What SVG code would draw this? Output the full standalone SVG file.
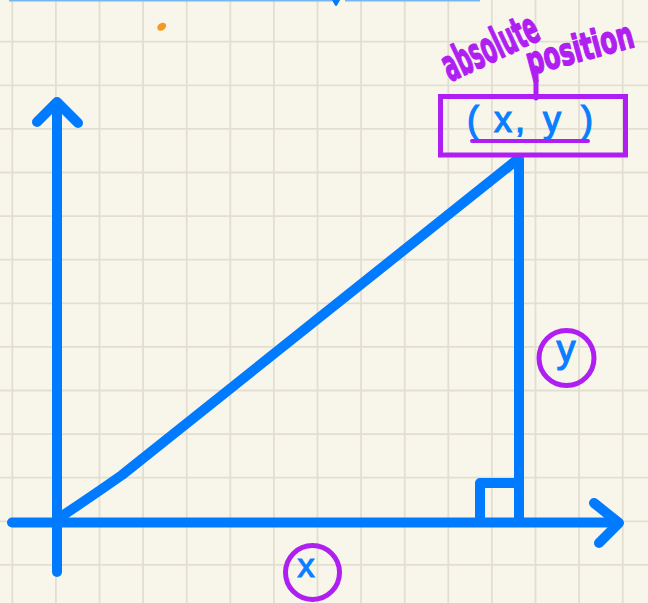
<svg xmlns="http://www.w3.org/2000/svg" width="648" height="603" viewBox="0 0 648 603">
<defs>
<style>
.grid line{stroke:#e2dfd1;stroke-width:1.8}
.blue{fill:none;stroke:#007aff;stroke-width:10;stroke-linecap:round;stroke-linejoin:round}
.purple{fill:none;stroke:#b01ff2;stroke-width:5}
.bt{font-family:"Liberation Sans",Arial,sans-serif;fill:#0a7eff;stroke:#0a7eff;stroke-width:1.2}
.hw{font-family:"DejaVu Sans Condensed","DejaVu Sans",sans-serif;font-weight:bold;fill:#b01ff2;stroke:#b01ff2;stroke-width:1.5;stroke-linejoin:round}
</style>
</defs>
<rect width="648" height="603" fill="#f8f6ea"/>
<g class="grid">
<line x1="12.3" y1="0" x2="12.3" y2="603"/>
<line x1="55.9" y1="0" x2="55.9" y2="603"/>
<line x1="99.5" y1="0" x2="99.5" y2="603"/>
<line x1="143.1" y1="0" x2="143.1" y2="603"/>
<line x1="186.7" y1="0" x2="186.7" y2="603"/>
<line x1="230.3" y1="0" x2="230.3" y2="603"/>
<line x1="273.9" y1="0" x2="273.9" y2="603"/>
<line x1="317.5" y1="0" x2="317.5" y2="603"/>
<line x1="361.1" y1="0" x2="361.1" y2="603"/>
<line x1="404.7" y1="0" x2="404.7" y2="603"/>
<line x1="448.3" y1="0" x2="448.3" y2="603"/>
<line x1="491.9" y1="0" x2="491.9" y2="603"/>
<line x1="535.5" y1="0" x2="535.5" y2="603"/>
<line x1="579.1" y1="0" x2="579.1" y2="603"/>
<line x1="622.7" y1="0" x2="622.7" y2="603"/>
<line x1="0" y1="41.7" x2="648" y2="41.7"/>
<line x1="0" y1="85.3" x2="648" y2="85.3"/>
<line x1="0" y1="128.9" x2="648" y2="128.9"/>
<line x1="0" y1="172.5" x2="648" y2="172.5"/>
<line x1="0" y1="216.1" x2="648" y2="216.1"/>
<line x1="0" y1="259.7" x2="648" y2="259.7"/>
<line x1="0" y1="303.3" x2="648" y2="303.3"/>
<line x1="0" y1="346.9" x2="648" y2="346.9"/>
<line x1="0" y1="390.5" x2="648" y2="390.5"/>
<line x1="0" y1="434.1" x2="648" y2="434.1"/>
<line x1="0" y1="477.7" x2="648" y2="477.7"/>
<line x1="0" y1="521.3" x2="648" y2="521.3"/>
<line x1="0" y1="564.9" x2="648" y2="564.9"/>
</g>
<g id="top-marks">
<line x1="9" y1="0.6" x2="332" y2="0.6" stroke="#78b6f2" stroke-width="2"/>
<line x1="345" y1="0.6" x2="480" y2="0.6" stroke="#78b6f2" stroke-width="2"/>
<path d="M333,0 L339,0 L336,5 Z" fill="#007aff" stroke="#007aff" stroke-width="2" stroke-linejoin="round"/>
<ellipse cx="161.7" cy="26.7" rx="4.8" ry="3.6" transform="rotate(-35 161.7 26.7)" fill="#f59a1e"/>
</g>
<g id="connectors">
<path class="blue" d="M57,572 L57,106"/>
<path class="blue" d="M37,122 L57,102 L78,123"/>
<path class="blue" d="M12,522.5 L618,522.5"/>
<path class="blue" d="M594,503 L619,523 L599,543"/>
<path class="blue" d="M59,518 Q95,494 122,475 L518,159"/>
<path class="blue" d="M519,159 L519,522"/>
<path class="blue" d="M480,521 L480,483 L519,483"/>
<line x1="536" y1="68" x2="536" y2="98" class="purple" stroke-linecap="round"/>
</g>
<g id="label-absolute-position">
<text class="hw" x="0" y="0" font-size="44" textLength="204" lengthAdjust="spacingAndGlyphs" transform="translate(450 82) rotate(-25) scale(0.5 1)">absolute</text>
<text class="hw" x="0" y="0" font-size="38" textLength="157" lengthAdjust="spacingAndGlyphs" transform="translate(530 75) rotate(-15) scale(0.7 1)">position</text>
</g>
<g id="node-xy">
<rect x="440.5" y="96.5" width="185" height="58.5" class="purple"/>
<text class="bt" x="467 479 494 515 522 543 562 581" y="132" font-size="36">( x, y )</text>
<line x1="472" y1="141" x2="588" y2="141" stroke="#b01ff2" stroke-width="4" stroke-linecap="round"/>
</g>
<g id="node-y">
<circle cx="566.5" cy="358" r="27.5" class="purple"/>
<text class="bt" x="566" y="362" font-size="38" text-anchor="middle">y</text>
</g>
<g id="node-x">
<circle cx="312.5" cy="572.5" r="27" class="purple"/>
<text class="bt" x="306" y="577" font-size="34" text-anchor="middle">x</text>
</g>
</svg>
